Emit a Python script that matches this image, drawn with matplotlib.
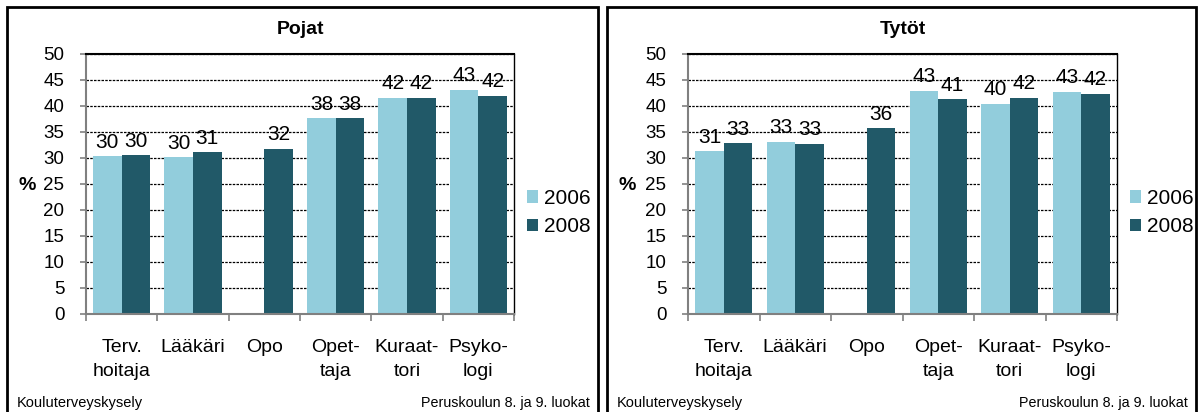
import numpy as np
import matplotlib.pyplot as plt
from matplotlib.patches import Rectangle

plt.rcParams['font.family'] = ['Liberation Sans', 'DejaVu Sans']

# =====================================================
#   data
# =====================================================

categories = ["Terv.\nhoitaja", "Lääkäri", "Opo", "Opet-\ntaja", "Kuraat-\ntori", "Psyko-\nlogi"]
years = ["2006", "2008"]

pojat_2006 = [30.3, 30.1, np.nan, 37.6, 41.6, 43.1]
pojat_2008 = [30.5, 31.1, 31.8, 37.6, 41.6, 41.9]

tytot_2006 = [31.3, 33.1, np.nan, 42.9, 40.4, 42.7]
tytot_2008 = [32.8, 32.7, 35.7, 41.3, 41.6, 42.3]

titles = ["Pojat", "Tytöt"]
footer_left = "Kouluterveyskysely"
footer_right = "Peruskoulun 8. ja 9. luokat"

c2006 = "#92CDDC"
c2008 = "#215968"

# =====================================================
#   plotting
# =====================================================

W, H = 1198, 412
fig = plt.figure(figsize=(W / 100, H / 100), dpi=100)


def px_axes(x0, y0, x1, y1):
    # pixel box (top-left origin) -> figure axes
    return fig.add_axes([x0 / W, 1 - y1 / H, (x1 - x0) / W, (y1 - y0) / H])


panels = [
    (7, 598, 86, 514, pojat_2006, pojat_2008, titles[0]),
    (607, 1196, 688, 1117, tytot_2006, tytot_2008, titles[1]),
]

for bx0, bx1, ax0, ax1, v06, v08, title in panels:
    # outer frame of the panel
    fig.patches.append(Rectangle((bx0 / W, -0.01), (bx1 - bx0) / W, 1.01 - 7 / H,
                                 transform=fig.transFigure, fill=False,
                                 edgecolor="black", linewidth=2))

    ax = px_axes(ax0, 54, ax1, 314)
    x = np.arange(len(categories))
    bw = 0.4
    b1 = ax.bar(x - bw / 2, v06, bw, color=c2006, label=years[0])
    b2 = ax.bar(x + bw / 2, v08, bw, color=c2008, label=years[1])

    for bars, vals in ((b1, v06), (b2, v08)):
        for rect, v in zip(bars, vals):
            if np.isnan(v):
                continue
            ax.text(rect.get_x() + rect.get_width() / 2, v + 0.9, f"{v:.0f}",
                    ha="center", va="bottom", fontsize=15)

    ax.set_ylim(0, 50)
    ax.set_xlim(-0.5, len(categories) - 0.5)
    ax.set_yticks(range(0, 51, 5))
    ax.yaxis.grid(True, linestyle=(0, (2, 1)), color="black", linewidth=0.9)
    ax.set_axisbelow(True)

    ax.set_xticks(np.arange(len(categories) + 1) - 0.5)
    ax.set_xticklabels([])
    ax.tick_params(axis="x", length=5, color="#808080", width=1.2)
    ax.tick_params(axis="y", length=4.5, color="#808080", width=1.2,
                   labelsize=13.5, pad=11)
    for i, lab in enumerate(categories):
        ax.text(i, -4.9, lab, ha="center", va="top", fontsize=14,
                linespacing=1.5)

    ax.spines["left"].set_color("#808080")
    ax.spines["left"].set_linewidth(1.5)
    ax.spines["bottom"].set_color("#808080")
    ax.spines["bottom"].set_linewidth(1.5)
    ax.spines["top"].set_linewidth(1.5)
    ax.spines["right"].set_linewidth(1.0)

    fig.text((bx0 + 20) / W, 1 - 185 / H, "%", fontsize=14, fontweight="bold",
             ha="center", va="center")
    fig.text((ax0 + ax1) / 2 / W, 1 - 29 / H, title, fontsize=14,
             fontweight="bold", ha="center", va="center")

    ax.legend(loc="center left", bbox_to_anchor=(1.01, 0.39), frameon=False,
              fontsize=15, handlelength=0.55, handleheight=0.55,
              handletextpad=0.3, labelspacing=0.45, borderaxespad=0)

    fig.text((bx0 + 10) / W, 1 - 403 / H, footer_left, fontsize=10.5, va="center")
    fig.text((bx1 - 8) / W, 1 - 403 / H, footer_right, fontsize=10.3, va="center",
             ha="right")

plt.savefig("out.png", dpi=100)
plt.close()
